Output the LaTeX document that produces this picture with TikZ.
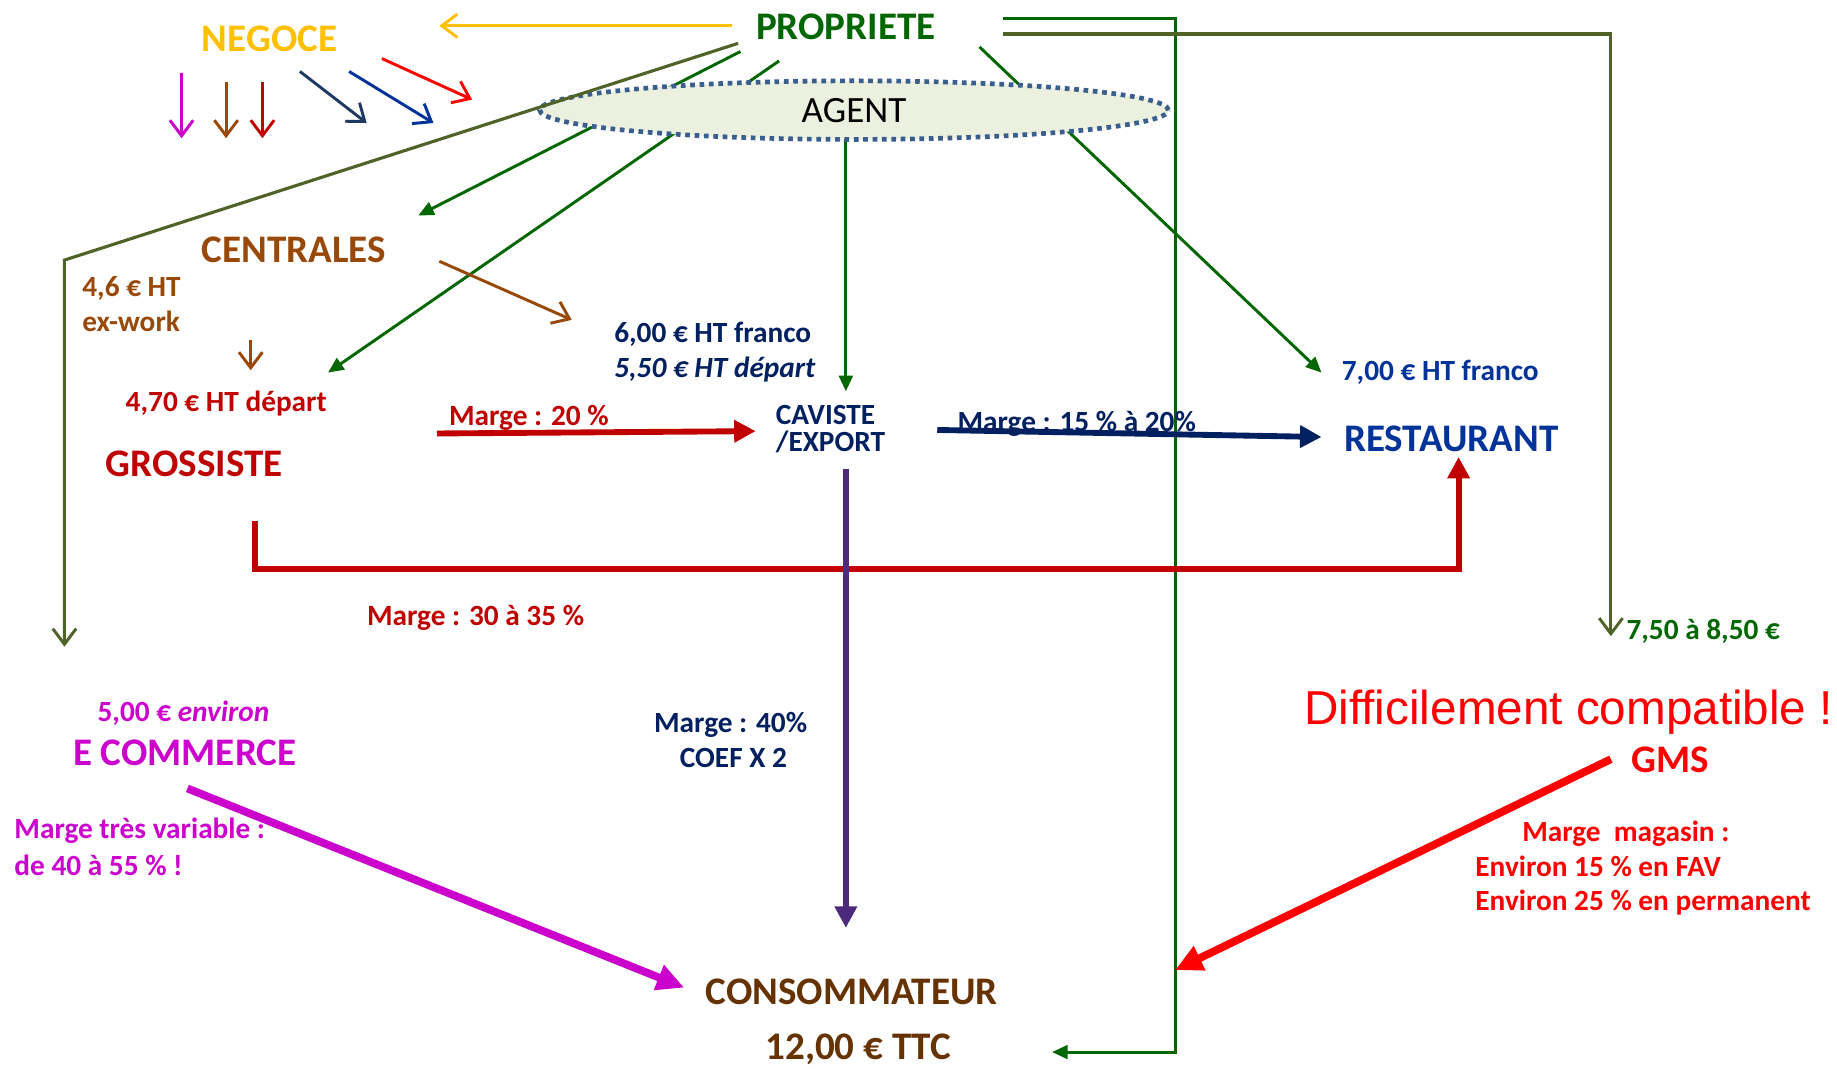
\documentclass[tikz,border=0pt]{standalone}
\usepackage{fontspec}
\setmainfont{Carlito}
\newfontfamily\arialf{Liberation Sans}
\usetikzlibrary{arrows.meta,shapes.geometric}
\definecolor{cOrange}{HTML}{FFC000}
\definecolor{cGreen}{HTML}{006600}
\definecolor{cBrown}{HTML}{984807}
\definecolor{cDRed}{HTML}{C00000}
\definecolor{cNavy}{HTML}{002060}
\definecolor{cBlue}{HTML}{003399}
\definecolor{cMag}{HTML}{CC00CC}
\definecolor{cRed}{HTML}{FF0000}
\definecolor{cCons}{HTML}{663300}
\definecolor{cOlive}{HTML}{4F6228}
\definecolor{cPurple}{HTML}{4E2A7A}
\definecolor{cFill}{HTML}{EBF0DF}
\definecolor{cDot}{HTML}{3A5F8F}
\definecolor{cNavyB}{HTML}{1F3864}
\tikzset{
  lbl/.style={anchor=base west, inner sep=0pt, font=\bfseries\fontsize{15}{18}\selectfont},
  big/.style={anchor=base west, inner sep=0pt, font=\bfseries\fontsize{20}{24}\selectfont},
  barb/.style={line width=1.5pt, -{Straight Barb[length=8pt,width=12pt,line width=1.5pt]}},
  gline/.style={cGreen, line width=1.5pt, -{Triangle[length=8pt,width=7pt]}},
  fat/.style={line width=3pt, -{Triangle[length=11pt,width=11pt]}},
  fatter/.style={line width=4pt, -{Triangle[length=14pt,width=13pt]}},
}
\begin{document}
\begin{tikzpicture}[x=0.6pt,y=-0.6pt]
\useasboundingbox (0,0) rectangle (1568,912);
\fill[white] (0,0) rectangle (1568,912);

% coordinates
\coordinate (or1) at (625,22);   \coordinate (or2) at (375,22);
\coordinate (m1) at (155,62);    \coordinate (m2) at (155,118);
\coordinate (b1) at (193,70);    \coordinate (b2) at (193,118);
\coordinate (r1) at (224,70);    \coordinate (r2) at (224,118);
\coordinate (n1) at (256,61);    \coordinate (n2) at (313,105);
\coordinate (u1) at (298,61);    \coordinate (u2) at (370,105);
\coordinate (e1) at (326,50);    \coordinate (e2) at (403,85);
\coordinate (g1a) at (632,44);   \coordinate (g1b) at (357,184);
\coordinate (g2a) at (665,52);   \coordinate (g2b) at (280,318);
\coordinate (g3a) at (722,100);  \coordinate (g3b) at (722,334);
\coordinate (g4a) at (836,40);   \coordinate (g4b) at (1128,318);
\coordinate (gb1) at (856,16);   \coordinate (gb2) at (1003,16);
\coordinate (gb3) at (1003,898); \coordinate (gb4) at (898,898);
\coordinate (ol1) at (630,37);   \coordinate (ol2) at (55,222);  \coordinate (ol3) at (55,552);
\coordinate (or3) at (856,29);   \coordinate (or4) at (1375,29); \coordinate (or5) at (1375,543);
\coordinate (cb1) at (375,223);  \coordinate (cb2) at (488,273);
\coordinate (cd1) at (214,290);  \coordinate (cd2) at (214,316);
\coordinate (rA) at (373,370);   \coordinate (rB) at (645,368);
\coordinate (nA) at (800,367);   \coordinate (nB) at (1128,373);
\coordinate (rb1) at (218,445);  \coordinate (rb2) at (218,486);
\coordinate (rb3) at (1245,486); \coordinate (rb4) at (1245,390);
\coordinate (pA) at (722,400);   \coordinate (pB) at (722,792);
\coordinate (mA) at (160,673);   \coordinate (mB) at (584,843);
\coordinate (sA) at (1375,648);  \coordinate (sB) at (1003,828);

% green lines from PROPRIETE (under the ellipse)
\draw[gline] (g1a) -- (g1b);
\draw[gline] (g2a) -- (g2b);
\draw[gline] (g3a) -- (g3b);
\draw[gline] (g4a) -- (g4b);
\draw[gline] (gb1) -- (gb2) -- (gb3) -- (gb4);

% agent ellipse
\node[ellipse, draw=cDot, fill=cFill, line width=2.4pt, dash pattern=on 2.4pt off 2.4pt,
      minimum width=322pt, minimum height=30pt, inner sep=0pt,
      font=\fontsize{19}{22}\selectfont] (agent) at (729,94) {AGENT};

% olive lines
\draw[cOlive, line width=1.6pt, -{Straight Barb[length=8pt,width=12pt,line width=1.5pt]}] (ol1) -- (ol2) -- (ol3);
\draw[cOlive, line width=1.6pt, -{Straight Barb[length=8pt,width=12pt,line width=1.5pt]}] (or3) -- (or4) -- (or5);

% small arrows
\draw[barb, cOrange] (or1) -- (or2);
\draw[barb, cMag] (m1) -- (m2);
\draw[barb, cBrown] (b1) -- (b2);
\draw[barb, cDRed] (r1) -- (r2);
\draw[barb, cNavyB] (n1) -- (n2);
\draw[barb, cBlue] (u1) -- (u2);
\draw[barb, cRed] (e1) -- (e2);
\draw[barb, cBrown] (cb1) -- (cb2);
\draw[barb, cBrown] (cd1) -- (cd2);

% thick arrows
\draw[fat, cDRed] (rA) -- (rB);
\draw[fat, cNavy] (nA) -- (nB);
\draw[fat, cDRed] (rb1) -- (rb2) -- (rb3) -- (rb4);
\draw[fat, cPurple] (pA) -- (pB);
\draw[fatter, cMag] (mA) -- (mB);
\draw[fatter, cRed] (sA) -- (sB);

% texts
\node[big, cOrange] (negoce) at (172,44) {NEGOCE};
\node[big, cGreen] (propriete) at (645,34) {PROPRIETE};
\node[big, cBrown] (centrales) at (172,224) {CENTRALES};
\node[lbl, cBrown] (p46) at (70,253) {4,6 € HT};
\node[lbl, cBrown] (exwork) at (70,283) {ex-work};
\node[lbl, cDRed] (p470) at (107,351) {4,70 € HT départ};
\node[big, cDRed] (grossiste) at (90,407) {GROSSISTE};
\node[lbl, cNavy] (p600) at (524,292) {6,00 € HT franco};
\node[lbl, cNavy] (p550) at (524,322) {\itshape 5,50 € HT départ};
\node[lbl, cDRed] (m20) at (383,363) {Marge : 20 \%};
\node[lbl, cNavy] (caviste) at (662,362) {CAVISTE};
\node[lbl, cNavy] (export) at (662,385) {/EXPORT};
\node[lbl, cNavy] (m15) at (817,368) {Marge : 15 \% à 20\%};
\node[lbl, cBlue] (p700) at (1145,325) {7,00 € HT franco};
\node[big, cBlue] (restaurant) at (1147,385) {RESTAURANT};
\node[lbl, cDRed] (m30) at (313,534) {Marge : 30 à 35 \%};
\node[lbl, cGreen] (p750) at (1388,546) {7,50 à 8,50 €};
\node[anchor=base west, inner sep=0pt, cRed, font=\arialf\fontsize{24.4}{28}\selectfont] (diff) at (1113,618) {Difficilement compatible !};
\node[big, cRed] (gms) at (1392,659) {GMS};
\node[lbl, cRed] (mmag) at (1299,718) {Marge\ \ magasin :};
\node[lbl, cRed] (env15) at (1259,748) {Environ 15 \% en FAV};
\node[lbl, cRed] (env25) at (1259,777) {Environ 25 \% en permanent};
\node[lbl, cMag] (p500) at (83,616) {5,00 € \itshape environ};
\node[big, cMag] (ecom) at (62,653) {E COMMERCE};
\node[lbl, cMag] (mvar) at (12,716) {Marge très variable :};
\node[lbl, cMag] (m4055) at (12,747) {de 40 à 55 \% !};
\node[lbl, cNavy] (m40) at (558,625) {Marge : 40\%};
\node[lbl, cNavy] (coef) at (580,655) {COEF X 2};
\node[big, cCons] (conso) at (602,857) {CONSOMMATEUR};
\node[big, cCons] (p1200) at (653,904) {12,00 € TTC};
\end{tikzpicture}
\end{document}
